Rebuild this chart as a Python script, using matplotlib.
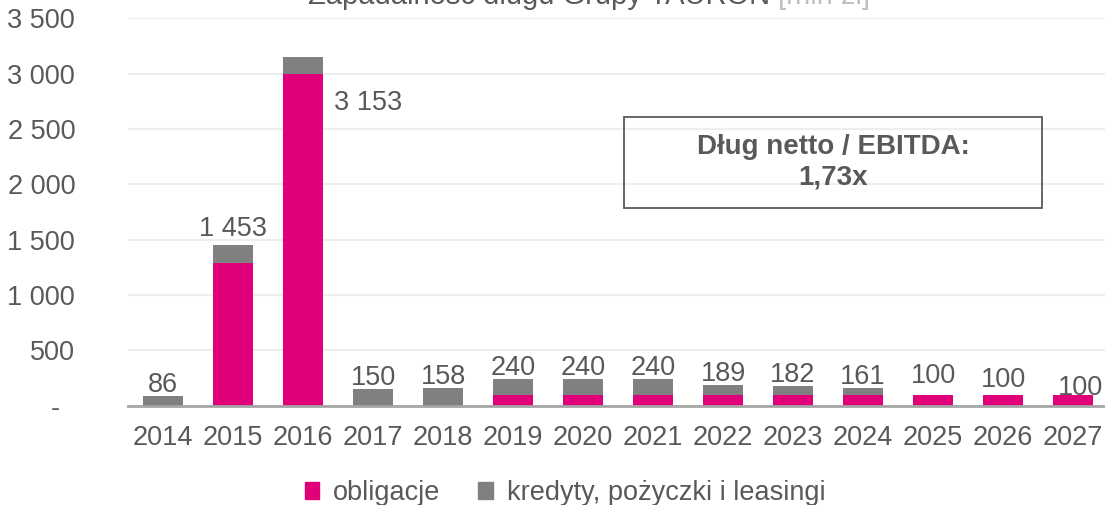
import matplotlib.pyplot as plt
from matplotlib.patches import Rectangle, Patch

plt.rcParams['font.family'] = ['Liberation Sans', 'DejaVu Sans']

years = ['2014', '2015', '2016', '2017', '2018', '2019', '2020',
         '2021', '2022', '2023', '2024', '2025', '2026', '2027']
obligacje = [0, 1290, 3000, 0, 0, 100, 100, 100, 100, 100, 100, 100, 100, 100]
kredyty = [86, 163, 153, 150, 158, 140, 140, 140, 89, 82, 61, 0, 0, 0]
y_ticks = [0, 500, 1000, 1500, 2000, 2500, 3000, 3500]

PINK = '#E2007A'
GREY = '#808080'
TXT = '#595959'
FS = 19.5


def fmt(v):
    return '-  ' if v == 0 else f'{v:,}'.replace(',', ' ')


fig = plt.figure(figsize=(11.05, 5.05), dpi=100)
W, H = 1105, 505
ax = fig.add_axes([128 / W, 1 - 405.7 / H, (W - 128) / W, (405.7 - 18.3) / H])

x = list(range(len(years)))
ax.bar(x, obligacje, width=0.57, color=PINK, zorder=2)
ax.bar(x, kredyty, width=0.57, bottom=obligacje, color=GREY, zorder=2)

ax.set_xlim(-0.5, 13.457)
ax.set_ylim(0, 3500)
ax.set_yticks(y_ticks)
ax.set_yticklabels([fmt(v) for v in y_ticks])
ax.set_xticks(x)
ax.set_xticklabels(years)
ax.tick_params(axis='both', length=0, labelsize=FS, labelcolor=TXT)
ax.tick_params(axis='y', pad=38)
ax.tick_params(axis='x', pad=14)
for s in ax.spines.values():
    s.set_visible(False)
ax.yaxis.grid(True, color='#EEEEEE', lw=1.5, zorder=0)
ax.set_axisbelow(True)
ax.axhline(0, color='#A6A6A6', lw=2, zorder=3, clip_on=False)

# data labels (Excel moves a few of them around)
shift = {1: (0, 9), 11: (0, 12), 12: (0, 8), 13: (7, 0)}
for i in x:
    tot = obligacje[i] + kredyty[i]
    if i == 2:
        ax.annotate(fmt(tot), (i + 0.285, tot), xytext=(11, -53),
                    textcoords='offset pixels', ha='left', va='baseline',
                    fontsize=FS, color=TXT)
        continue
    dx, dy = shift.get(i, (0, 4))
    ax.annotate(fmt(tot), (i, tot), xytext=(dx, dy), textcoords='offset pixels',
                ha='center', va='baseline', fontsize=FS, color=TXT)

# title, cut at the top like in the source
t1 = fig.text(308 / W, 1 - 4 / H, 'Zapadalność długu Grupy TAURON ',
              fontsize=21, color=TXT, va='baseline')
r = fig.canvas.get_renderer()
bb = t1.get_window_extent(r)
fig.text(bb.x1 / W, 1 - 4 / H, '[mln zł]', fontsize=21, color='#BFBFBF',
         va='baseline')

# box with ratio
fig.patches.append(Rectangle((624 / W, 1 - 208 / H), 418 / W, 91 / H,
                             transform=fig.transFigure, fill=False,
                             ec=TXT, lw=1.3))
fig.text(833 / W, 1 - 162 / H, 'Dług netto / EBITDA:\n1,73x', ha='center',
         va='center', multialignment='center', fontsize=20,
         fontweight='bold', color=TXT, linespacing=1.25)

handles = [Patch(color=PINK), Patch(color=GREY)]
fig.legend(handles, ['obligacje', 'kredyty, pożyczki i leasingi'],
           loc='center', bbox_to_anchor=(565 / W, 1 - 493 / H), ncol=2,
           frameon=False, fontsize=FS, labelcolor=TXT, handlelength=0.55,
           handleheight=0.55, handletextpad=0.5, columnspacing=1.4)

fig.savefig('out.png', dpi=100)
